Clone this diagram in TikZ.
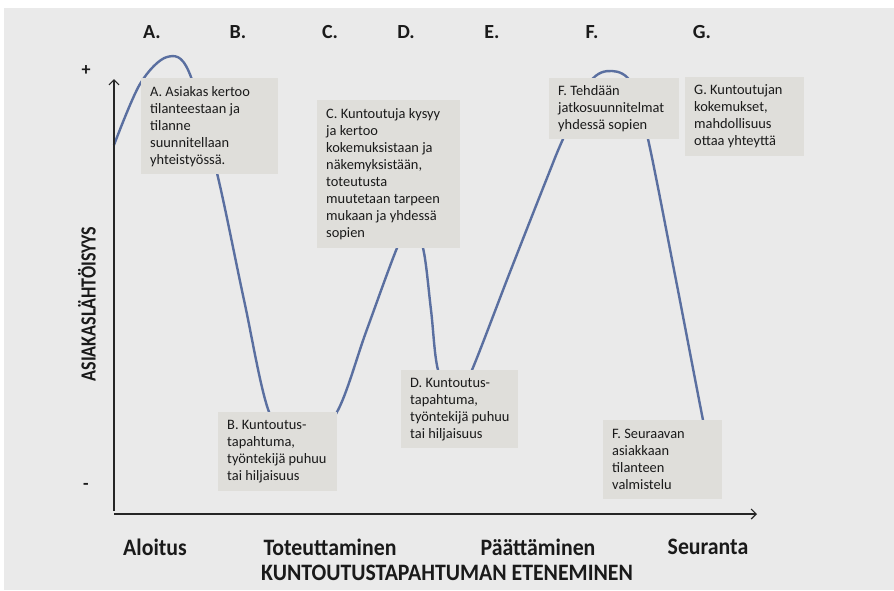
\documentclass[tikz,border=0pt]{standalone}
\usepackage{fontspec}
\setmainfont{Carlito}
\usetikzlibrary{arrows.meta}
\definecolor{bggrey}{HTML}{EAEAEA}
\definecolor{boxgrey}{HTML}{DFDEDA}
\definecolor{curveblue}{HTML}{5A6FA0}
\definecolor{inkgrey}{HTML}{1A1A1A}

\begin{document}
\begin{tikzpicture}[x=1pt,y=-1pt,
  notebox/.style={anchor=north west, fill=boxgrey, draw=none, inner sep=0pt},
  notetext/.style={anchor=west, align=left, inner sep=0pt, text=inkgrey,
    font=\fontsize{14.4}{17}\selectfont},
  phase/.style={font=\bfseries\fontsize{20}{24}\selectfont, text=inkgrey},
  stage/.style={font=\bfseries\fontsize{21.8}{25}\selectfont, text=inkgrey},
  axisline/.style={line width=1.2pt, draw=black!85,
    -{Straight Barb[length=5pt,width=10pt,line width=1.2pt]}}]

% canvas
\useasboundingbox (0,0) rectangle (894,590);
\fill[bggrey] (4,8) rectangle (894,590);

% phase letters along the top
\node[phase] (pA) at (152,32) {A.};
\node[phase] (pB) at (238,32) {B.};
\node[phase] (pC) at (330,32) {C.};
\node[phase] (pD) at (406,32) {D.};
\node[phase] (pE) at (492,32) {E.};
\node[phase] (pF) at (592,32) {F.};
\node[phase] (pG) at (702,32) {G.};

% the course of client orientation
\draw[curveblue, line width=2.4pt, line cap=round]
  plot[smooth, tension=0.55] coordinates {
    (114,145) (140,84) (167,57) (189,72) (217,173) (244,300) (269,412)
    (300,452) (337,412) (366,332) (397,248) (410,226) (423,248)
    (431,310) (438,370) (455,402) (472,370) (510,272) (547,178)
    (563,139) (590,82) (612,71) (632,84) (648,139) (675,275) (703,420)
    (712,460)};

% axes
\coordinate (yfoot) at (114,511);
\coordinate (ytop) at (114,79);
\coordinate (xfoot) at (114,514);
\coordinate (xend) at (757,514);
\draw[axisline] (yfoot) -- (ytop);
\draw[axisline] (xfoot) -- (xend);

% description boxes
\node[notebox, minimum width=137pt, minimum height=96pt] (boxA) at (141,78) {};
\node[notetext] (textA) at ([xshift=9pt]boxA.west)
  {A. Asiakas kertoo\\tilanteestaan ja\\tilanne\\suunnitellaan\\yhteistyössä.};

\node[notebox, minimum width=143pt, minimum height=148pt] (boxC) at (317,100) {};
\node[notetext] (textC) at ([xshift=9pt]boxC.west)
  {C. Kuntoutuja kysyy\\ja kertoo\\kokemuksistaan ja\\näkemyksistään,\\toteutusta\\muutetaan tarpeen\\mukaan ja yhdessä\\sopien};

\node[notebox, minimum width=130pt, minimum height=61pt] (boxF) at (549,78) {};
\node[notetext] (textF) at ([xshift=9pt]boxF.west)
  {F. Tehdään\\jatkosuunnitelmat\\yhdessä sopien};

\node[notebox, minimum width=119pt, minimum height=79pt] (boxG) at (685,77) {};
\node[notetext] (textG) at ([xshift=9pt]boxG.west)
  {G. Kuntoutujan\\kokemukset,\\mahdollisuus\\ottaa yhteyttä};

\node[notebox, minimum width=119pt, minimum height=79pt] (boxB) at (218,412) {};
\node[notetext] (textB) at ([xshift=9pt]boxB.west)
  {B. Kuntoutus-\\tapahtuma,\\työntekijä puhuu\\tai hiljaisuus};

\node[notebox, minimum width=117pt, minimum height=78pt] (boxD) at (401,370) {};
\node[notetext] (textD) at ([xshift=9pt]boxD.west)
  {D. Kuntoutus-\\tapahtuma,\\työntekijä puhuu\\tai hiljaisuus};

\node[notebox, minimum width=119pt, minimum height=79pt] (boxF2) at (603,420) {};
\node[notetext] (textF2) at ([xshift=9pt]boxF2.west)
  {F. Seuraavan\\asiakkaan\\tilanteen\\valmistelu};

% vertical axis labels
\node[font=\bfseries\fontsize{18}{20}\selectfont, text=inkgrey] (plus) at (86,71) {+};
\node[font=\bfseries\fontsize{18}{20}\selectfont, text=inkgrey] (minus) at (86,486) {-};
\node[font=\bfseries\fontsize{18}{20}\selectfont, text=inkgrey, rotate=90] (ylabel) at (87,304)
  {\scalebox{1}[1.2]{ASIAKASLÄHTÖISYYS}};

% horizontal axis labels
\node[stage] (sAloitus) at (155,547) {\scalebox{1}[1.08]{Aloitus}};
\node[stage] (sToteutus) at (330,547) {\scalebox{1}[1.08]{Toteuttaminen}};
\node[stage] (sPaatos) at (538,547) {\scalebox{1}[1.08]{Päättäminen}};
\node[stage] (sSeuranta) at (708,547) {\scalebox{1}[1.08]{Seuranta}};
\node[stage] (xlabel) at (447,573) {\scalebox{1}[1.08]{KUNTOUTUSTAPAHTUMAN ETENEMINEN}};
\end{tikzpicture}
\end{document}
